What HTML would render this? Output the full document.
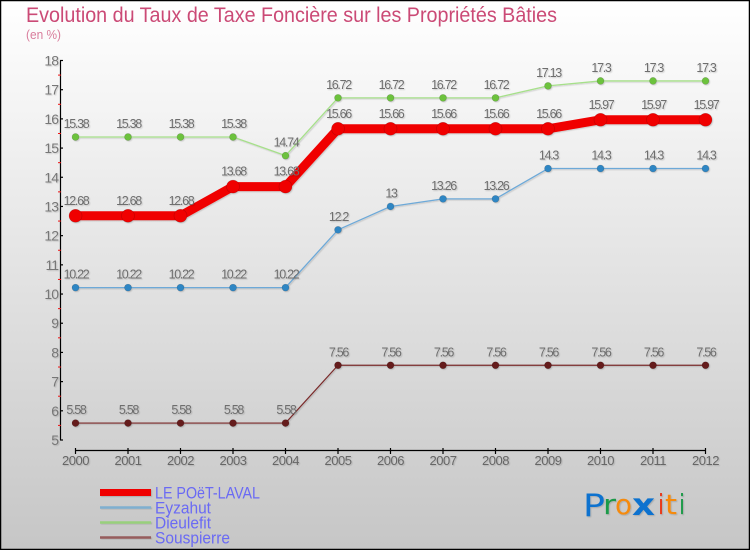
<!DOCTYPE html>
<html lang="fr">
<head>
<meta charset="utf-8">
<title>Evolution du Taux de Taxe Foncière</title>
<style>
html,body{margin:0;padding:0;width:750px;height:550px;overflow:hidden;background:#fff}
svg{display:block;font-family:"Liberation Sans",sans-serif}
</style>
</head>
<body>
<svg id="chart" xmlns="http://www.w3.org/2000/svg" width="750" height="550" viewBox="0 0 750 550">
<defs>
<linearGradient id="bg" x1="0" y1="0" x2="0" y2="1">
<stop offset="0" stop-color="#ffffff"/>
<stop offset="1" stop-color="#c6c6c6"/>
</linearGradient>
<filter id="soft" x="-20%" y="-20%" width="140%" height="140%">
<feDropShadow dx="1" dy="1" stdDeviation="0.6" flood-color="#000" flood-opacity="0.16"/>
</filter>
</defs>
<rect x="0.5" y="0.5" width="749" height="549" fill="url(#bg)" stroke="#000" stroke-width="1.5"/>
<text x="26" y="22" font-size="21" fill="#cb4a76" textLength="531" lengthAdjust="spacingAndGlyphs">Evolution du Taux de Taxe Foncière sur les Propriétés Bâties</text>
<text x="26" y="39" font-size="13" fill="#d97d9c" textLength="35" lengthAdjust="spacingAndGlyphs">(en %)</text>
<g id="axes"></g>
<g id="series"></g>
<g id="labels"></g>
<g id="legend"></g>
<g font-size="28" font-family="'DejaVu Sans',sans-serif" filter="url(#soft)">
<text x="583" y="516" fill="#0b72cf" font-size="31" textLength="22" lengthAdjust="spacingAndGlyphs">P</text>
<text x="603" y="514" fill="#1d9a4a" textLength="13" lengthAdjust="spacingAndGlyphs">r</text>
<text x="615" y="514" fill="#f58a0b" textLength="17" lengthAdjust="spacingAndGlyphs">o</text>
<text x="632" y="515" fill="#0b72cf" font-weight="bold" font-size="30" textLength="23" lengthAdjust="spacingAndGlyphs">x</text>
<text x="658" y="514" fill="#e8391a" textLength="6" lengthAdjust="spacingAndGlyphs">i</text>
<text x="665" y="514" fill="#f58a0b" textLength="12" lengthAdjust="spacingAndGlyphs">t</text>
<text x="679" y="514" fill="#1d9a4a" textLength="6" lengthAdjust="spacingAndGlyphs">i</text>
</g>
</svg>
<script>
const years = [2000,2001,2002,2003,2004,2005,2006,2007,2008,2009,2010,2011,2012];
const yTicks = [5,6,7,8,9,10,11,12,13,14,15,16,17,18];
const commune = [12.68,12.68,12.68,13.68,13.68,15.66,15.66,15.66,15.66,15.66,15.97,15.97,15.97];
const eyzahut = [10.22,10.22,10.22,10.22,10.22,12.2,13,13.26,13.26,14.3,14.3,14.3,14.3];
const dieulefit = [15.38,15.38,15.38,15.38,14.74,16.72,16.72,16.72,16.72,17.13,17.3,17.3,17.3];
const souspierre = [5.58,5.58,5.58,5.58,5.58,7.56,7.56,7.56,7.56,7.56,7.56,7.56,7.56];

const NS = 'http://www.w3.org/2000/svg';
const xAt = function (i) { return 75.5 + i * (705.5 - 75.5) / (years.length - 1); };
const yAt = function (v) { return 440 - (v - 5) * (440 - 60.5) / 13; };

function mk(tag, parent, attrs, txt) {
  const el = document.createElementNS(NS, tag);
  for (const k in attrs) el.setAttribute(k, attrs[k]);
  if (txt !== undefined) el.textContent = txt;
  parent.appendChild(el);
  return el;
}

const axes = document.getElementById('axes');
const seriesG = document.getElementById('series');
const labelsG = document.getElementById('labels');
const legendG = document.getElementById('legend');

const yAxis = mk('line', axes, {x1:60.5, x2:60.5, y1:yAt(18), y2:yAt(5), stroke:'#000', 'stroke-width':1.2});


const xAxis = mk('line', axes, {x1:xAt(0), x2:xAt(years.length - 1), y1:450.5, y2:450.5, stroke:'#000', 'stroke-width':1.2});



yTicks.forEach(function (t) {
  const tick = mk('line', axes, {x1:60, x2:63, y1:yAt(t), y2:yAt(t), stroke:'#000', 'stroke-width':1.2});
  
  
  const lab = mk('text', axes, {x:58, y:yAt(t) + 5, 'font-size':14, fill:'#777', 'text-anchor':'end', 'letter-spacing':'-1', filter:'url(#soft)'}, String(t));
  
  
  if (t < 18) {
    const minor = mk('line', axes, {x1:58, x2:61, y1:yAt(t + 0.5), y2:yAt(t + 0.5), stroke:'#ee1111', 'stroke-width':1});
    
    
  }
});

years.forEach(function (yr, i) {
  const tick = mk('line', axes, {x1:xAt(i), x2:xAt(i), y1:448, y2:454, stroke:'#000', 'stroke-width':1.2});
  
  
  const lab = mk('text', axes, {x:xAt(i), y:465, 'font-size':13, fill:'#666', 'text-anchor':'middle', 'letter-spacing':'-0.5', filter:'url(#soft)'}, String(yr));
  
  
});

function drawSeries(name, values, color, markFill, width, radius, lift) {
  const g = mk('g', seriesG, {filter:'url(#soft)'});
  
  
  const pts = values.map(function (v, i) { return xAt(i) + ',' + yAt(v); }).join(' ');
  const line = mk('polyline', g, {points:pts, fill:'none', stroke:color, 'stroke-width':width, 'stroke-linejoin':'round'});
  
  
  values.forEach(function (v, i) {
    const dot = mk('circle', g, {cx:xAt(i), cy:yAt(v), r:radius, fill:markFill, stroke:'rgba(0,0,0,0.2)', 'stroke-width':0.6});
    
    
    const lab = mk('text', labelsG, {x:xAt(i) + 0.5, y:yAt(v) - lift, 'font-size':12.5, fill:'#6e6e6e', 'text-anchor':'middle', 'letter-spacing':'-1.3', filter:'url(#soft)'}, String(v));
    
    
  });
}

drawSeries('eyzahut', eyzahut, '#6da9d8', '#2f86c4', 1.3, 3.5, 9);
drawSeries('dieulefit', dieulefit, '#a6e08a', '#6cc23c', 1.3, 3.5, 9);
drawSeries('souspierre', souspierre, '#7a2b2b', '#651a1a', 1.2, 3.5, 9);
drawSeries('le-poet-laval', commune, '#f00000', '#f00000', 9, 6.5, 11);

const legendNames = ['LE POëT-LAVAL', 'Eyzahut', 'Dieulefit', 'Souspierre'];
const legendColors = ['#f00000', '#7fafd0', '#98d07c', '#965c5c'];
const legendHeights = [7, 2.5, 2.5, 2.5];
const legendWidthsText = [105, 56, 56, 75];
const legendRows = [0, 1, 2, 3];
legendNames.forEach(function (n, i) {
  const ly = 492.5 + legendRows[i] * 15;
  const sw = mk('rect', legendG, {x:100, y:ly - legendHeights[i] / 2, width:51, height:legendHeights[i], fill:legendColors[i], filter:'url(#soft)'});
  
  
  const t = mk('text', legendG, {x:155, y:ly + 6, 'font-size':17, fill:'#6a6af4', textLength:legendWidthsText[i], lengthAdjust:'spacingAndGlyphs'}, n);
  
  
});
</script>
</body>
</html>
